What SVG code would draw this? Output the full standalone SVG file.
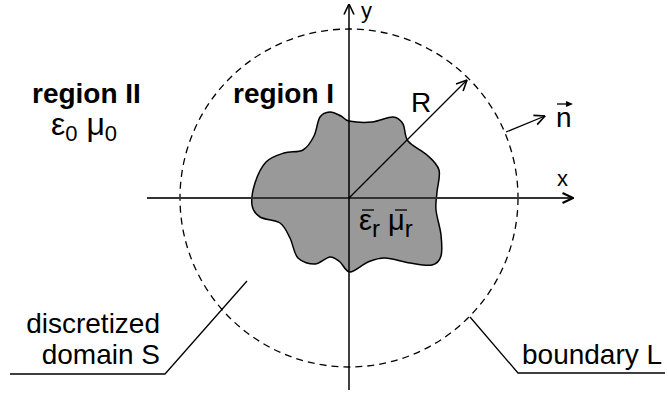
<svg xmlns="http://www.w3.org/2000/svg" width="668" height="396" viewBox="0 0 668 396">
<style>
text{font-family:"Liberation Sans",Arial,sans-serif;fill:#000}
.t{font-size:28px}
.b{font-size:28px;font-weight:bold}
.ax{font-size:22px}
.ln{stroke:#000;stroke-width:1.3;fill:none}
</style>
<defs>
<marker id="ah" viewBox="0 0 12 12" refX="11.5" refY="6" markerWidth="12" markerHeight="12" markerUnits="userSpaceOnUse" orient="auto">
<path d="M1,1 L11.5,6 L1,11" fill="none" stroke="#000" stroke-width="1.6"/>
</marker>
<marker id="ahx" viewBox="0 0 12 12" refX="11.5" refY="6" markerWidth="12" markerHeight="12" markerUnits="userSpaceOnUse" orient="auto">
<path d="M1,1 L11.5,6 L1,11" fill="none" stroke="#000" stroke-width="2"/>
</marker>
</defs>
<rect width="668" height="396" fill="#fff"/>
<g id="scatterer">
<path fill="#999" stroke="#000" stroke-width="1.5" d="M349,121 C354.2,122 364.7,122.7 372,122 C379.3,121.3 387.8,116.7 393,117 C398.2,117.3 400.5,120 403,124 C405.5,128 404,135.8 408,141 C412,146.2 421.8,150.2 427,155 C432.2,159.8 437.3,163.8 439,170 C440.7,176.2 437.5,185.3 437,192 C436.5,198.7 435.3,202.8 436,210 C436.7,217.2 440.2,227.3 441,235 C441.8,242.7 442.5,251 441,256 C439.5,261 437.2,263.8 432,265 C426.8,266.2 417.8,264.2 410,263 C402.2,261.8 392,258.2 385,258 C378,257.8 373.8,259.7 368,262 C362.2,264.3 354.7,272 350,272 C345.3,272 343.3,264.5 340,262 C336.7,259.5 334.2,256.7 330,257 C325.8,257.3 320.3,263.8 315,264 C309.7,264.2 302.2,262.3 298,258 C293.8,253.7 293,243.8 290,238 C287,232.2 285,226.5 280,223 C275,219.5 264.7,220 260,217 C255.3,214 252.8,210.7 252,205 C251.2,199.3 252.7,190.2 255,183 C257.3,175.8 261.2,167 266,162 C270.8,157 277.8,155 284,153 C290.2,151 298,152.8 303,150 C308,147.2 311.2,141.5 314,136 C316.8,130.5 317.3,121 320,117 C322.7,113 326.5,112.2 330,112 C333.5,111.8 337.8,114.5 341,116 C344.2,117.5 343.8,120 349,121 Z"/>
</g>
<g id="boundary">
<circle cx="349" cy="198" r="169" fill="none" stroke="#000" stroke-width="1.3" stroke-dasharray="7,5"/>
</g>
<g id="connectors">
<line x1="147" y1="198" x2="573" y2="198" stroke="#333" stroke-width="2" marker-end="url(#ahx)"/>
<line x1="349" y1="390" x2="349" y2="4" stroke="#000" stroke-width="1.5" marker-end="url(#ah)"/>
<line class="ln" x1="349" y1="198" x2="467" y2="80" marker-end="url(#ah)"/>
<line class="ln" x1="506" y1="132" x2="545" y2="116" marker-end="url(#ah)"/>
<polyline class="ln" points="247,281 165,374 10,374"/>
<polyline class="ln" points="470,317 518,373 665,373"/>
</g>
<g id="labels">
<text class="ax" x="361" y="18">y</text>
<text class="ax" x="557" y="186">x</text>
<text class="t" x="411" y="112">R</text>
<text class="t" x="556" y="127">n</text>
<line x1="557" y1="104" x2="568" y2="104" stroke="#000" stroke-width="1.3"/>
<polygon points="573,104 566,101 566,107" fill="#000"/>
<text class="b" x="32" y="103">region II</text>
<text class="b" x="233" y="103">region I</text>
<text x="51" y="135" font-size="32">ε<tspan font-size="22" dy="6">0</tspan><tspan dy="-6"> μ</tspan><tspan font-size="22" dy="6">0</tspan></text>
<text x="359" y="230" font-size="29">ε<tspan font-size="24" dy="7">r</tspan><tspan dy="-7"> μ</tspan><tspan font-size="24" dy="7">r</tspan></text>
<line x1="362" y1="210" x2="374" y2="210" stroke="#000" stroke-width="1.3"/>
<line x1="395" y1="210" x2="407" y2="210" stroke="#000" stroke-width="1.3"/>
<text class="t" x="160" y="333" text-anchor="end">discretized</text>
<text class="t" x="160" y="364" text-anchor="end">domain S</text>
<text class="t" x="522" y="364">boundary L</text>
</g>
</svg>
